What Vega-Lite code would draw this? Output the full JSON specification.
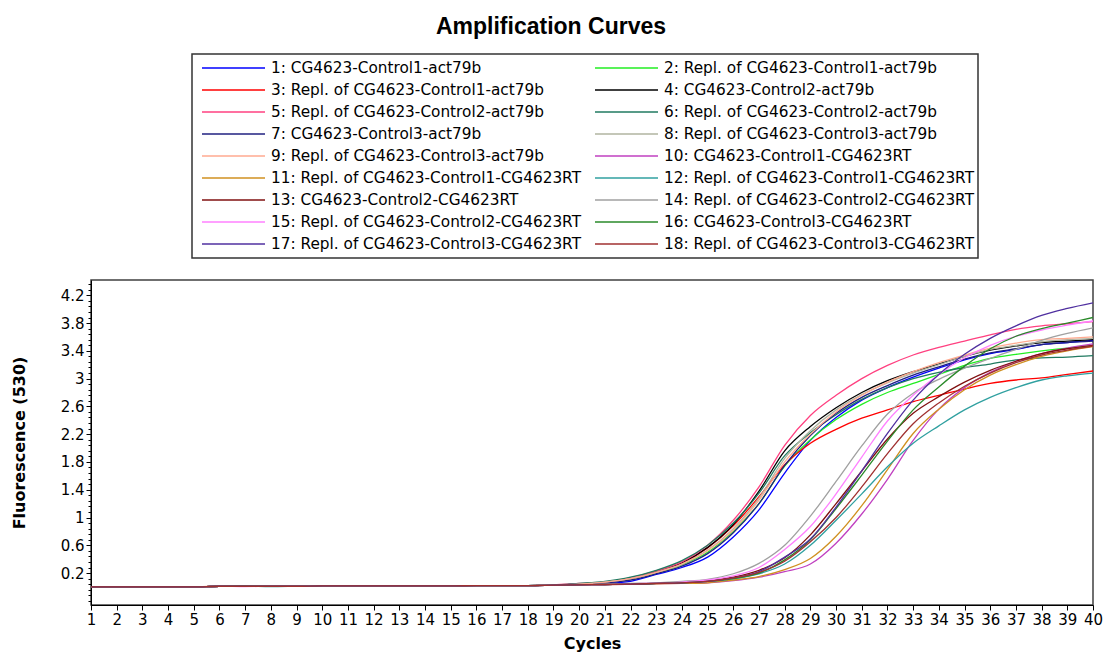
{
  "$schema": "https://vega.github.io/schema/vega-lite/v6.json",
  "autosize": {"type": "none"},
  "padding": {"left": 91, "top": 280, "right": 12, "bottom": 51},
  "width": 1002,
  "height": 325,
  "background": "white",
  "title": {"text": "Amplification Curves", "frame": "group", "anchor": "middle", "offset": 14, "dx": -41, "font": "Liberation Sans", "fontSize": 23, "fontWeight": "bold", "color": "black"},
  "datasets": {
    "names": [
      {"key": "s1", "name": "1: CG4623-Control1-act79b"},
      {"key": "s2", "name": "2: Repl. of CG4623-Control1-act79b"},
      {"key": "s3", "name": "3: Repl. of CG4623-Control1-act79b"},
      {"key": "s4", "name": "4: CG4623-Control2-act79b"},
      {"key": "s5", "name": "5: Repl. of CG4623-Control2-act79b"},
      {"key": "s6", "name": "6: Repl. of CG4623-Control2-act79b"},
      {"key": "s7", "name": "7: CG4623-Control3-act79b"},
      {"key": "s8", "name": "8: Repl. of CG4623-Control3-act79b"},
      {"key": "s9", "name": "9: Repl. of CG4623-Control3-act79b"},
      {"key": "s10", "name": "10: CG4623-Control1-CG4623RT"},
      {"key": "s11", "name": "11: Repl. of CG4623-Control1-CG4623RT"},
      {"key": "s12", "name": "12: Repl. of CG4623-Control1-CG4623RT"},
      {"key": "s13", "name": "13: CG4623-Control2-CG4623RT"},
      {"key": "s14", "name": "14: Repl. of CG4623-Control2-CG4623RT"},
      {"key": "s15", "name": "15: Repl. of CG4623-Control2-CG4623RT"},
      {"key": "s16", "name": "16: CG4623-Control3-CG4623RT"},
      {"key": "s17", "name": "17: Repl. of CG4623-Control3-CG4623RT"},
      {"key": "s18", "name": "18: Repl. of CG4623-Control3-CG4623RT"}
    ]
  },
  "data": {"values": [
    {"c":1,"s1":0,"s2":0,"s3":0,"s4":0,"s5":0,"s6":0,"s7":0,"s8":0,"s9":0,"s10":0,"s11":0,"s12":0,"s13":0,"s14":0,"s15":0,"s16":0,"s17":0,"s18":0},
    {"c":2,"s1":0,"s2":0,"s3":0,"s4":0,"s5":0,"s6":0,"s7":0,"s8":0,"s9":0,"s10":0,"s11":0,"s12":0,"s13":0,"s14":0,"s15":0,"s16":0,"s17":0,"s18":0},
    {"c":3,"s1":0,"s2":0,"s3":0,"s4":0,"s5":0,"s6":0,"s7":0,"s8":0,"s9":0,"s10":0,"s11":0,"s12":0,"s13":0,"s14":0,"s15":0,"s16":0,"s17":0,"s18":0},
    {"c":4,"s1":0,"s2":0,"s3":0,"s4":0,"s5":0,"s6":0,"s7":0,"s8":0,"s9":0,"s10":0,"s11":0,"s12":0,"s13":0,"s14":0,"s15":0,"s16":0,"s17":0,"s18":0},
    {"c":5,"s1":0,"s2":0,"s3":0,"s4":0,"s5":0,"s6":0,"s7":0,"s8":0,"s9":0,"s10":0,"s11":0,"s12":0,"s13":0,"s14":0,"s15":0,"s16":0,"s17":0,"s18":0},
    {"c":6,"s1":0.01,"s2":0.01,"s3":0.01,"s4":0.01,"s5":0.01,"s6":0.01,"s7":0.01,"s8":0.01,"s9":0.015,"s10":0.01,"s11":0.01,"s12":0.01,"s13":0.01,"s14":0.01,"s15":0.01,"s16":0.01,"s17":0.01,"s18":0.01},
    {"c":7,"s1":0.01,"s2":0.01,"s3":0.01,"s4":0.01,"s5":0.01,"s6":0.01,"s7":0.01,"s8":0.01,"s9":0.01,"s10":0.01,"s11":0.01,"s12":0.01,"s13":0.01,"s14":0.01,"s15":0.005,"s16":0.01,"s17":0.01,"s18":0.01},
    {"c":8,"s1":0.01,"s2":0.01,"s3":0.01,"s4":0.01,"s5":0.01,"s6":0.01,"s7":0.01,"s8":0.01,"s9":0.01,"s10":0.01,"s11":0.01,"s12":0.005,"s13":0.01,"s14":0.01,"s15":0.01,"s16":0.01,"s17":0.01,"s18":0.01},
    {"c":9,"s1":0.01,"s2":0.01,"s3":0.01,"s4":0.01,"s5":0.01,"s6":0.01,"s7":0.01,"s8":0.01,"s9":0.01,"s10":0.01,"s11":0.01,"s12":0.01,"s13":0.01,"s14":0.01,"s15":0.01,"s16":0.01,"s17":0.01,"s18":0.01},
    {"c":10,"s1":0.015,"s2":0.015,"s3":0.015,"s4":0.015,"s5":0.015,"s6":0.015,"s7":0.015,"s8":0.015,"s9":0.015,"s10":0.015,"s11":0.015,"s12":0.015,"s13":0.015,"s14":0.015,"s15":0.015,"s16":0.015,"s17":0.015,"s18":0.015},
    {"c":11,"s1":0.015,"s2":0.015,"s3":0.015,"s4":0.015,"s5":0.015,"s6":0.015,"s7":0.015,"s8":0.015,"s9":0.015,"s10":0.015,"s11":0.015,"s12":0.015,"s13":0.015,"s14":0.015,"s15":0.015,"s16":0.015,"s17":0.015,"s18":0.015},
    {"c":12,"s1":0.015,"s2":0.015,"s3":0.015,"s4":0.015,"s5":0.015,"s6":0.015,"s7":0.015,"s8":0.015,"s9":0.015,"s10":0.015,"s11":0.015,"s12":0.015,"s13":0.015,"s14":0.015,"s15":0.015,"s16":0.015,"s17":0.015,"s18":0.015},
    {"c":13,"s1":0.015,"s2":0.015,"s3":0.015,"s4":0.015,"s5":0.015,"s6":0.015,"s7":0.015,"s8":0.015,"s9":0.015,"s10":0.015,"s11":0.015,"s12":0.015,"s13":0.015,"s14":0.015,"s15":0.015,"s16":0.015,"s17":0.015,"s18":0.015},
    {"c":14,"s1":0.015,"s2":0.015,"s3":0.015,"s4":0.015,"s5":0.015,"s6":0.015,"s7":0.015,"s8":0.015,"s9":0.015,"s10":0.015,"s11":0.015,"s12":0.015,"s13":0.015,"s14":0.015,"s15":0.015,"s16":0.015,"s17":0.015,"s18":0.015},
    {"c":15,"s1":0.015,"s2":0.015,"s3":0.015,"s4":0.015,"s5":0.015,"s6":0.015,"s7":0.015,"s8":0.015,"s9":0.015,"s10":0.015,"s11":0.015,"s12":0.015,"s13":0.015,"s14":0.015,"s15":0.015,"s16":0.015,"s17":0.015,"s18":0.015},
    {"c":16,"s1":0.02,"s2":0.02,"s3":0.02,"s4":0.02,"s5":0.02,"s6":0.02,"s7":0.02,"s8":0.02,"s9":0.02,"s10":0.02,"s11":0.02,"s12":0.02,"s13":0.02,"s14":0.02,"s15":0.02,"s16":0.02,"s17":0.02,"s18":0.02},
    {"c":17,"s1":0.02,"s2":0.02,"s3":0.02,"s4":0.02,"s5":0.02,"s6":0.02,"s7":0.02,"s8":0.02,"s9":0.02,"s10":0.02,"s11":0.02,"s12":0.02,"s13":0.02,"s14":0.02,"s15":0.02,"s16":0.02,"s17":0.02,"s18":0.02},
    {"c":18,"s1":0.02,"s2":0.02,"s3":0.02,"s4":0.02,"s5":0.02,"s6":0.02,"s7":0.02,"s8":0.02,"s9":0.02,"s10":0.02,"s11":0.02,"s12":0.02,"s13":0.02,"s14":0.02,"s15":0.02,"s16":0.02,"s17":0.02,"s18":0.02},
    {"c":19,"s1":0.025,"s2":0.025,"s3":0.025,"s4":0.025,"s5":0.03,"s6":0.025,"s7":0.025,"s8":0.025,"s9":0.03,"s10":0.025,"s11":0.025,"s12":0.025,"s13":0.025,"s14":0.025,"s15":0.025,"s16":0.025,"s17":0.025,"s18":0.025},
    {"c":20,"s1":0.04,"s2":0.04,"s3":0.04,"s4":0.04,"s5":0.05,"s6":0.05,"s7":0.04,"s8":0.04,"s9":0.04,"s10":0.03,"s11":0.03,"s12":0.03,"s13":0.03,"s14":0.03,"s15":0.03,"s16":0.03,"s17":0.03,"s18":0.03},
    {"c":21,"s1":0.05,"s2":0.07,"s3":0.07,"s4":0.07,"s5":0.07,"s6":0.08,"s7":0.06,"s8":0.07,"s9":0.07,"s10":0.035,"s11":0.035,"s12":0.035,"s13":0.035,"s14":0.04,"s15":0.035,"s16":0.035,"s17":0.035,"s18":0.035},
    {"c":22,"s1":0.08,"s2":0.12,"s3":0.12,"s4":0.12,"s5":0.13,"s6":0.14,"s7":0.1,"s8":0.12,"s9":0.12,"s10":0.04,"s11":0.04,"s12":0.04,"s13":0.04,"s14":0.05,"s15":0.045,"s16":0.04,"s17":0.04,"s18":0.04},
    {"c":23,"s1":0.18,"s2":0.2,"s3":0.21,"s4":0.22,"s5":0.23,"s6":0.24,"s7":0.19,"s8":0.21,"s9":0.21,"s10":0.045,"s11":0.045,"s12":0.05,"s13":0.05,"s14":0.06,"s15":0.055,"s16":0.05,"s17":0.05,"s18":0.05},
    {"c":24,"s1":0.28,"s2":0.32,"s3":0.34,"s4":0.35,"s5":0.36,"s6":0.38,"s7":0.3,"s8":0.33,"s9":0.33,"s10":0.05,"s11":0.05,"s12":0.06,"s13":0.065,"s14":0.08,"s15":0.07,"s16":0.06,"s17":0.06,"s18":0.06},
    {"c":25,"s1":0.43,"s2":0.5,"s3":0.56,"s4":0.57,"s5":0.6,"s6":0.6,"s7":0.48,"s8":0.53,"s9":0.52,"s10":0.06,"s11":0.06,"s12":0.08,"s13":0.09,"s14":0.11,"s15":0.1,"s16":0.08,"s17":0.08,"s18":0.08},
    {"c":26,"s1":0.72,"s2":0.8,"s3":0.88,"s4":0.9,"s5":0.96,"s6":0.92,"s7":0.78,"s8":0.84,"s9":0.82,"s10":0.09,"s11":0.1,"s12":0.12,"s13":0.14,"s14":0.19,"s15":0.16,"s16":0.12,"s17":0.13,"s18":0.13},
    {"c":27,"s1":1.11,"s2":1.2,"s3":1.3,"s4":1.38,"s5":1.44,"s6":1.35,"s7":1.2,"s8":1.28,"s9":1.25,"s10":0.14,"s11":0.15,"s12":0.19,"s13":0.24,"s14":0.34,"s15":0.28,"s16":0.2,"s17":0.22,"s18":0.21},
    {"c":28,"s1":1.64,"s2":1.74,"s3":1.76,"s4":1.96,"s5":2.04,"s6":1.89,"s7":1.75,"s8":1.85,"s9":1.8,"s10":0.22,"s11":0.25,"s12":0.33,"s13":0.42,"s14":0.6,"s15":0.54,"s16":0.39,"s17":0.43,"s18":0.37},
    {"c":29,"s1":2.11,"s2":2.12,"s3":2.07,"s4":2.31,"s5":2.47,"s6":2.22,"s7":2.18,"s8":2.25,"s9":2.2,"s10":0.33,"s11":0.41,"s12":0.6,"s13":0.75,"s14":1.02,"s15":0.87,"s16":0.68,"s17":0.69,"s18":0.65},
    {"c":30,"s1":2.44,"s2":2.41,"s3":2.27,"s4":2.58,"s5":2.76,"s6":2.48,"s7":2.5,"s8":2.55,"s9":2.52,"s10":0.63,"s11":0.73,"s12":0.96,"s13":1.2,"s14":1.52,"s15":1.34,"s16":1.13,"s17":1.15,"s18":1.0},
    {"c":31,"s1":2.69,"s2":2.63,"s3":2.43,"s4":2.8,"s5":3.0,"s6":2.7,"s7":2.73,"s8":2.77,"s9":2.76,"s10":1.05,"s11":1.17,"s12":1.34,"s13":1.67,"s14":2.03,"s15":1.87,"s16":1.61,"s17":1.67,"s18":1.44},
    {"c":32,"s1":2.87,"s2":2.8,"s3":2.55,"s4":2.97,"s5":3.19,"s6":2.87,"s7":2.9,"s8":2.94,"s9":2.95,"s10":1.55,"s11":1.69,"s12":1.73,"s13":2.13,"s14":2.49,"s15":2.39,"s16":2.1,"s17":2.21,"s18":1.92},
    {"c":33,"s1":3.02,"s2":2.93,"s3":2.67,"s4":3.1,"s5":3.34,"s6":3.0,"s7":3.05,"s8":3.08,"s9":3.1,"s10":2.11,"s11":2.21,"s12":2.07,"s13":2.5,"s14":2.79,"s15":2.76,"s16":2.55,"s17":2.69,"s18":2.35},
    {"c":34,"s1":3.15,"s2":3.06,"s3":2.76,"s4":3.21,"s5":3.45,"s6":3.09,"s7":3.17,"s8":3.2,"s9":3.23,"s10":2.56,"s11":2.56,"s12":2.32,"s13":2.74,"s14":2.99,"s15":3.06,"s16":2.88,"s17":3.06,"s18":2.65},
    {"c":35,"s1":3.27,"s2":3.19,"s3":2.85,"s4":3.32,"s5":3.54,"s6":3.16,"s7":3.28,"s8":3.32,"s9":3.34,"s10":2.87,"s11":2.84,"s12":2.55,"s13":2.95,"s14":3.15,"s15":3.3,"s16":3.18,"s17":3.35,"s18":2.89},
    {"c":36,"s1":3.36,"s2":3.29,"s3":2.93,"s4":3.41,"s5":3.63,"s6":3.21,"s7":3.37,"s8":3.42,"s9":3.44,"s10":3.09,"s11":3.05,"s12":2.73,"s13":3.12,"s14":3.29,"s15":3.48,"s16":3.43,"s17":3.58,"s18":3.08},
    {"c":37,"s1":3.42,"s2":3.35,"s3":2.98,"s4":3.47,"s5":3.71,"s6":3.27,"s7":3.43,"s8":3.48,"s9":3.51,"s10":3.25,"s11":3.2,"s12":2.87,"s13":3.25,"s14":3.42,"s15":3.61,"s16":3.61,"s17":3.76,"s18":3.23},
    {"c":38,"s1":3.49,"s2":3.4,"s3":3.01,"s4":3.52,"s5":3.76,"s6":3.3,"s7":3.49,"s8":3.53,"s9":3.56,"s10":3.36,"s11":3.32,"s12":2.98,"s13":3.36,"s14":3.55,"s15":3.7,"s16":3.72,"s17":3.91,"s18":3.34},
    {"c":39,"s1":3.52,"s2":3.44,"s3":3.06,"s4":3.54,"s5":3.79,"s6":3.31,"s7":3.52,"s8":3.56,"s9":3.58,"s10":3.44,"s11":3.4,"s12":3.04,"s13":3.43,"s14":3.65,"s15":3.77,"s16":3.8,"s17":4.01,"s18":3.41},
    {"c":40,"s1":3.55,"s2":3.47,"s3":3.11,"s4":3.56,"s5":3.82,"s6":3.33,"s7":3.54,"s8":3.58,"s9":3.6,"s10":3.5,"s11":3.46,"s12":3.08,"s13":3.48,"s14":3.73,"s15":3.83,"s16":3.88,"s17":4.09,"s18":3.47}
  ]},
  "transform": [
    {"fold": ["s1","s2","s3","s4","s5","s6","s7","s8","s9","s10","s11","s12","s13","s14","s15","s16","s17","s18"], "as": ["key", "v"]},
    {"lookup": "key", "from": {"data": {"name": "names"}, "key": "key", "fields": ["name"]}}
  ],
  "mark": {"type": "line", "strokeWidth": 1.3, "interpolate": "monotone", "clip": true},
  "encoding": {
    "x": {
      "field": "c", "type": "quantitative",
      "scale": {"domain": [1, 40], "nice": false, "zero": false},
      "axis": {
        "values": [1,2,3,4,5,6,7,8,9,10,11,12,13,14,15,16,17,18,19,20,21,22,23,24,25,26,27,28,29,30,31,32,33,34,35,36,37,38,39,40],
        "title": "Cycles", "titleFont": "DejaVu Sans", "titleFontSize": 16, "titleFontWeight": "bold", "titleColor": "black", "titlePadding": 8,
        "labelFont": "DejaVu Sans", "labelFontSize": 15, "labelColor": "black", "labelPadding": 2, "labelFlush": false, "labelOverlap": false,
        "tickSize": 5, "tickColor": "black", "domainColor": "black", "grid": false
      }
    },
    "y": {
      "field": "v", "type": "quantitative",
      "scale": {"domain": [-0.26, 4.42], "nice": false, "zero": false},
      "axis": {
        "values": [-0.2,-0.12,-0.04,0.04,0.12,0.2,0.28,0.36,0.44,0.52,0.6,0.68,0.76,0.84,0.92,1,1.08,1.16,1.24,1.32,1.4,1.48,1.56,1.64,1.72,1.8,1.88,1.96,2.04,2.12,2.2,2.28,2.36,2.44,2.52,2.6,2.68,2.76,2.84,2.92,3,3.08,3.16,3.24,3.32,3.4,3.48,3.56,3.64,3.72,3.8,3.88,3.96,4.04,4.12,4.2,4.28,4.36],
        "labelExpr": "datum.value > 0.1 && abs((datum.value - 0.2) / 0.4 - round((datum.value - 0.2) / 0.4)) < 0.01 ? format(datum.value, '.1~f') : ''",
        "tickSize": {"condition": {"test": "datum.value > 0.1 && abs((datum.value - 0.2) / 0.4 - round((datum.value - 0.2) / 0.4)) < 0.01", "value": 5}, "value": 3},
        "title": "Fluorescence (530)", "titleFont": "DejaVu Sans", "titleFontSize": 16, "titleFontWeight": "bold", "titleColor": "black", "titlePadding": 33,
        "labelFont": "DejaVu Sans", "labelFontSize": 15, "labelColor": "black", "labelPadding": 2, "labelOverlap": false, "labelFlush": false,
        "tickColor": "black", "domainColor": "black", "grid": false
      }
    },
    "color": {
      "field": "name", "type": "nominal",
      "scale": {
        "domain": ["1: CG4623-Control1-act79b","2: Repl. of CG4623-Control1-act79b","3: Repl. of CG4623-Control1-act79b","4: CG4623-Control2-act79b","5: Repl. of CG4623-Control2-act79b","6: Repl. of CG4623-Control2-act79b","7: CG4623-Control3-act79b","8: Repl. of CG4623-Control3-act79b","9: Repl. of CG4623-Control3-act79b","10: CG4623-Control1-CG4623RT","11: Repl. of CG4623-Control1-CG4623RT","12: Repl. of CG4623-Control1-CG4623RT","13: CG4623-Control2-CG4623RT","14: Repl. of CG4623-Control2-CG4623RT","15: Repl. of CG4623-Control2-CG4623RT","16: CG4623-Control3-CG4623RT","17: Repl. of CG4623-Control3-CG4623RT","18: Repl. of CG4623-Control3-CG4623RT"],
        "range": ["#0000ff","#22ee22","#ff0000","#000000","#ff4080","#207a60","#202080","#b0b4a0","#ffaa90","#c040c0","#d09020","#30a0a0","#801010","#a0a0a0","#ff80ff","#2a8a2a","#5030a0","#a03030"]
      },
      "legend": {
        "orient": "none", "legendX": 101, "legendY": -226, "title": null, "columns": 2, "direction": "horizontal",
        "symbolType": "stroke", "symbolSize": 3969, "symbolStrokeWidth": 1.6,
        "labelFont": "DejaVu Sans", "labelFontSize": 15.3, "labelColor": "black", "labelLimit": 500,
        "clipHeight": 20, "rowPadding": 2, "columnPadding": 8, "padding": 4, "symbolOffset": 5, "labelOffset": 5,
        "strokeColor": "#333333", "fillColor": "white"
      }
    }
  },
  "config": {
    "view": {"stroke": "#404040", "strokeWidth": 1.5},
    "legend": {"strokeWidth": 1.5}
  }
}
